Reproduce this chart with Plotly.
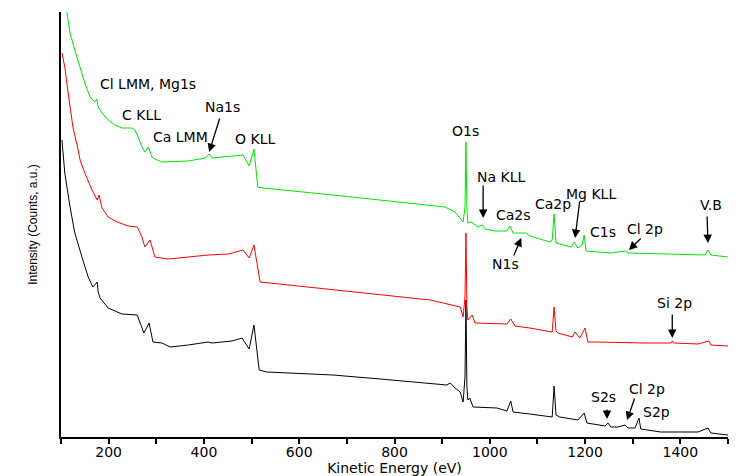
import plotly.graph_objects as go

# survey spectra (kinetic energy in eV, intensity in a.u.)
green_ev = [104, 113, 119, 129, 140, 150, 161, 171, 175, 178, 186, 199, 213, 228, 249, 255, 262, 270,
            276, 283, 291, 297, 312, 367, 403, 411, 417, 482, 495, 505, 513, 524, 671, 770, 906, 927,
            940, 944, 948, 950, 952, 954, 961, 975, 984, 990, 1011, 1036, 1042, 1049, 1076, 1084, 1126,
            1131, 1135, 1139, 1171, 1177, 1185, 1194, 1198, 1202, 1254, 1284, 1290, 1395, 1452, 1458,
            1464, 1500]
green_int = [450, 424, 404, 387, 370, 354, 340, 335, 338, 330, 324, 317, 312, 309, 309, 307, 300, 290,
             285, 290, 280, 278, 275, 276, 279, 283, 279, 282, 271, 288, 250, 249, 242, 237, 230, 225,
             217, 215, 230, 295, 228, 214, 215, 210, 212, 208, 206, 206, 211, 204, 204, 201, 195,
             197, 223, 194, 190, 195, 189, 192, 202, 186, 184, 186, 184, 183, 182, 187,
             182, 180]

red_ev = [102, 108, 115, 125, 136, 140, 150, 165, 176, 180, 186, 199, 218, 241, 260, 270, 276, 287,
          297, 325, 367, 409, 451, 482, 495, 505, 518, 595, 734, 875, 938, 944, 948, 950, 952, 954,
          963, 969, 1036, 1044, 1053, 1084, 1131, 1135, 1139, 1143, 1173, 1179, 1189, 1200, 1206,
          1221, 1326, 1380, 1383, 1386, 1437, 1460, 1464, 1500]
red_int = [384, 370, 344, 310, 287, 277, 264, 247, 237, 242, 229, 220, 215, 211, 210, 200, 190, 197,
           180, 178, 180, 182, 183, 187, 179, 192, 155, 151, 144, 137, 130, 120, 140, 204, 130, 117,
           122, 114, 113, 118, 111, 109, 105, 130, 106, 104, 100, 105, 99, 109, 95,
           95, 94, 94, 96, 94, 93, 96, 92, 91]

black_ev = [102, 108, 119, 129, 144, 157, 167, 176, 178, 182, 199, 228, 260, 266, 274, 285, 293, 312,
            329, 367, 409, 417, 459, 480, 495, 505, 516, 532, 671, 770, 875, 910, 917, 927, 938, 944,
            948, 950, 952, 954, 958, 965, 1015, 1036, 1044, 1049, 1084, 1131, 1135, 1139, 1147, 1185,
            1198, 1204, 1242, 1248, 1254, 1269, 1284, 1290, 1305, 1313, 1317, 1359, 1437, 1458, 1464,
            1500]
black_int = [297, 264, 230, 204, 180, 160, 150, 155, 145, 139, 129, 123, 122, 114, 104, 114, 95, 94,
             90, 92, 95, 94, 96, 99, 88, 112, 67, 65, 62, 58, 54, 52, 54, 49, 45, 35,
             60, 137, 50, 37, 39, 30, 29, 26, 36, 25, 23, 20, 51, 22, 20, 17,
             24, 14, 11, 14, 10, 10, 12, 9, 9, 19, 8, 5, 5, 9, 4,
             2]

# peak labels: text, energy, intensity
labels = ["Cl LMM, Mg1s", "C KLL", "Ca LMM", "Na1s", "O KLL", "O1s", "Na KLL", "Ca2s", "N1s",
          "Ca2p", "Mg KLL", "C1s", "Cl 2p", "V.B", "Si 2p", "S2s", "Cl 2p", "S2p"]
label_ev = [283, 268, 350, 438, 507, 950, 1024, 1049, 1032,
            1133, 1212, 1238, 1326, 1464, 1387, 1238, 1330, 1349]
label_int = [353, 322, 300, 330, 298, 306, 260, 222, 173,
             233, 243, 205, 208, 232, 134, 40, 48, 25]

# arrows: tail (energy, intensity) -> head (energy, intensity)
arrow_tail_ev = [434, 986, 1049, 1189, 1320, 1456, 1383, 1246, 1305]
arrow_tail_int = [320, 253, 180, 237, 200, 222, 124, 29, 40]
arrow_head_ev = [411, 986, 1066, 1179, 1292, 1458, 1383, 1246, 1288]
arrow_head_int = [285, 219, 199, 199, 187, 194, 99, 18, 17]

fig = go.Figure()

for ev, inten, color in [(black_ev, black_int, "#000000"),
                         (red_ev, red_int, "#ff0000"),
                         (green_ev, green_int, "#00e600")]:
    fig.add_trace(go.Scatter(x=ev, y=inten, mode="lines",
                             line=dict(color=color, width=1), showlegend=False))

for text, x, y in zip(labels, label_ev, label_int):
    fig.add_annotation(x=x, y=y, text=text, showarrow=False,
                       font=dict(family="DejaVu Sans", size=14, color="black"))

for tx, ty, hx, hy in zip(arrow_tail_ev, arrow_tail_int, arrow_head_ev, arrow_head_int):
    fig.add_annotation(x=hx, y=hy, ax=tx, ay=ty, axref="x", ayref="y", text="",
                       showarrow=True, arrowhead=2, arrowsize=1.3, arrowwidth=1.3,
                       arrowcolor="black")

# page body adds an 8px offset, so the figure is sized/margined to compensate
fig.update_layout(
    width=748, height=468,
    margin=dict(l=53, r=28, t=4, b=39),
    plot_bgcolor="white", paper_bgcolor="white",
    font=dict(family="DejaVu Sans", size=14, color="black"),
    xaxis=dict(
        range=[100, 1500], showgrid=False, zeroline=False, automargin=False,
        showline=True, linecolor="black", linewidth=2,
        ticks="outside", ticklen=5, tickwidth=1.5, tickcolor="black",
        tick0=200, dtick=200, ticklabelstandoff=-4,
        minor=dict(ticks="outside", ticklen=5, tickwidth=1.5, tickcolor="black", dtick=100, tick0=100),
        title=dict(text="Kinetic Energy (eV)", standoff=0, font=dict(size=14)),
    ),
    yaxis=dict(
        range=[0, 425], showgrid=False, zeroline=False, automargin=False,
        showline=True, linecolor="black", linewidth=2,
        showticklabels=False, ticks="",
        title=dict(text="Intensity (Counts, a.u.)", standoff=19,
                   font=dict(family="Liberation Sans", size=12)),
    ),
)

fig.write_html("out.html")
